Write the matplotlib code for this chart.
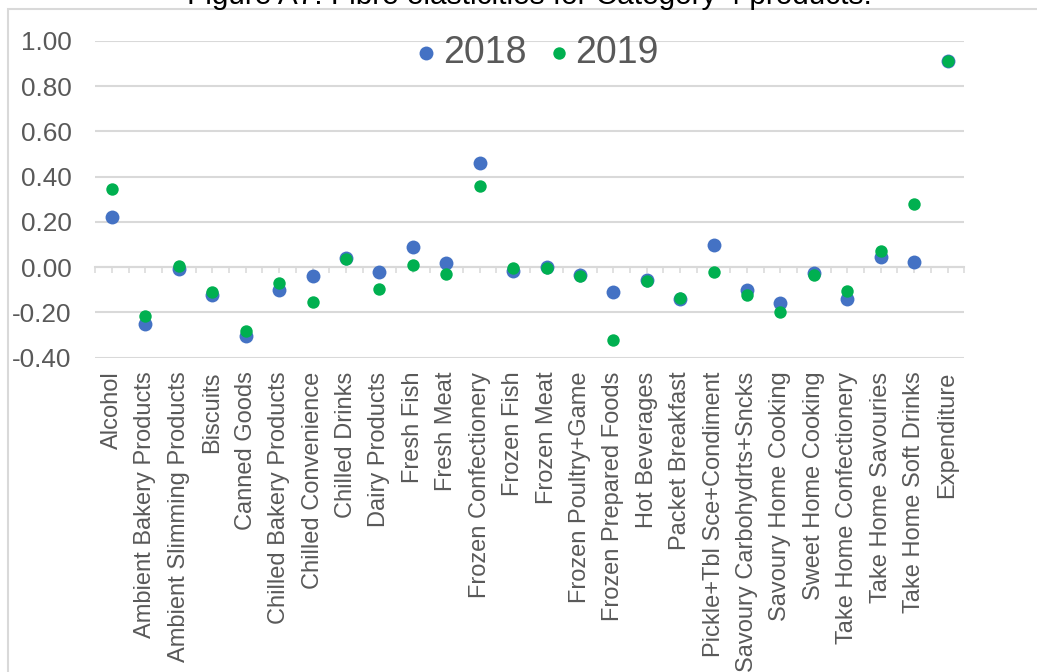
import numpy as np
import matplotlib
matplotlib.use("Agg")
import matplotlib.pyplot as plt
from matplotlib.patches import Rectangle

plt.rcParams['font.family'] = ['Liberation Sans', 'DejaVu Sans']

categories = [
    "Alcohol", "Ambient Bakery Products", "Ambient Slimming Products", "Biscuits",
    "Canned Goods", "Chilled Bakery Products", "Chilled Convenience", "Chilled Drinks",
    "Dairy Products", "Fresh Fish", "Fresh Meat", "Frozen Confectionery", "Frozen Fish",
    "Frozen Meat", "Frozen Poultry+Game", "Frozen Prepared Foods", "Hot Beverages",
    "Packet Breakfast", "Pickle+Tbl Sce+Condiment", "Savoury Carbohydrts+Sncks",
    "Savoury Home Cooking", "Sweet Home Cooking", "Take Home Confectionery",
    "Take Home Savouries", "Take Home Soft Drinks", "Expenditure",
]

values_2018 = [0.22, -0.25, -0.01, -0.125, -0.305, -0.10, -0.04, 0.04,
               -0.02, 0.09, 0.02, 0.46, -0.015, 0.00, -0.035, -0.11, -0.055,
               -0.14, 0.10, -0.10, -0.16, -0.025, -0.14, 0.045, 0.025, 0.91]
values_2019 = [0.345, -0.215, 0.005, -0.11, -0.28, -0.07, -0.155, 0.035,
               -0.095, 0.01, -0.03, 0.36, -0.005, -0.005, -0.04, -0.32, -0.06,
               -0.135, -0.02, -0.125, -0.20, -0.035, -0.105, 0.07, 0.28, 0.91]

series_labels = ["2018", "2019"]
y_ticks = [-0.40, -0.20, 0.00, 0.20, 0.40, 0.60, 0.80, 1.00]
title = "Figure A7: Fibre elasticities for Category 4 products."

BLUE = "#4472C4"
GREEN = "#00B050"
TEXT = "#595959"
GRID = "#D9D9D9"

W, H = 1037, 672
fig = plt.figure(figsize=(W / 100, H / 100), dpi=100)
ax = fig.add_axes([95.3 / W, 1 - 357.7 / H, (964.3 - 95.3) / W, (357.7 - 41) / H])

x = np.arange(len(categories))
ax.scatter(x, values_2018, s=100, color=BLUE, zorder=3, label=series_labels[0],
           linewidths=0)
ax.scatter(x, values_2019, s=80, color=GREEN, zorder=4, label=series_labels[1],
           linewidths=0)

ax.set_xlim(-0.5, len(categories) - 0.5)
ax.set_ylim(y_ticks[0], y_ticks[-1])
ax.set_yticks(y_ticks)
ax.set_yticklabels([f"{v:.2f}" for v in y_ticks])
ax.tick_params(axis='y', length=0, pad=17, labelsize=18.8, labelcolor=TEXT)
ax.grid(axis='y', color=GRID, linewidth=1.5, zorder=0)
ax.set_axisbelow(True)

ax.set_xticks(x)
ax.set_xticklabels(categories, rotation=90, ha='center', va='top')
ax.tick_params(axis='x', length=0, pad=10, labelsize=17, labelcolor=TEXT)

for side in ("left", "right", "top", "bottom"):
    ax.spines[side].set_visible(False)

# horizontal category axis crossing at zero, with tick marks between and on categories
zero_frac = (0 - y_ticks[0]) / (y_ticks[-1] - y_ticks[0])
sec = ax.secondary_xaxis(zero_frac)
sec.set_xticks(np.arange(-0.5, len(categories), 0.5))
sec.tick_params(axis='x', direction='out', length=4.2, width=1.1, color=GRID,
                labelbottom=False, labeltop=False, bottom=True, top=False)
for side in ("left", "right", "top"):
    sec.spines[side].set_visible(False)
sec.spines['bottom'].set_color(GRID)
sec.spines['bottom'].set_linewidth(1.5)

leg = ax.legend(loc='center', bbox_to_anchor=(535 / W, 1 - 53 / H),
                bbox_transform=fig.transFigure, ncol=2, frameon=False,
                fontsize=27, handletextpad=0.05, columnspacing=0.45,
                borderpad=0, handlelength=0.8)
for t in leg.get_texts():
    t.set_color(TEXT)

# chart area outline
fig.patches.append(Rectangle((8 / W, -0.2), 1.2, 1 - 9.5 / H + 0.2,
                             transform=fig.transFigure, fill=False,
                             edgecolor=GRID, linewidth=1.5))

fig.text(529 / W, 1 - 4.5 / H, title, ha='center', va='baseline',
         fontsize=21.4, color='black')

fig.savefig("out.png", dpi=100)
